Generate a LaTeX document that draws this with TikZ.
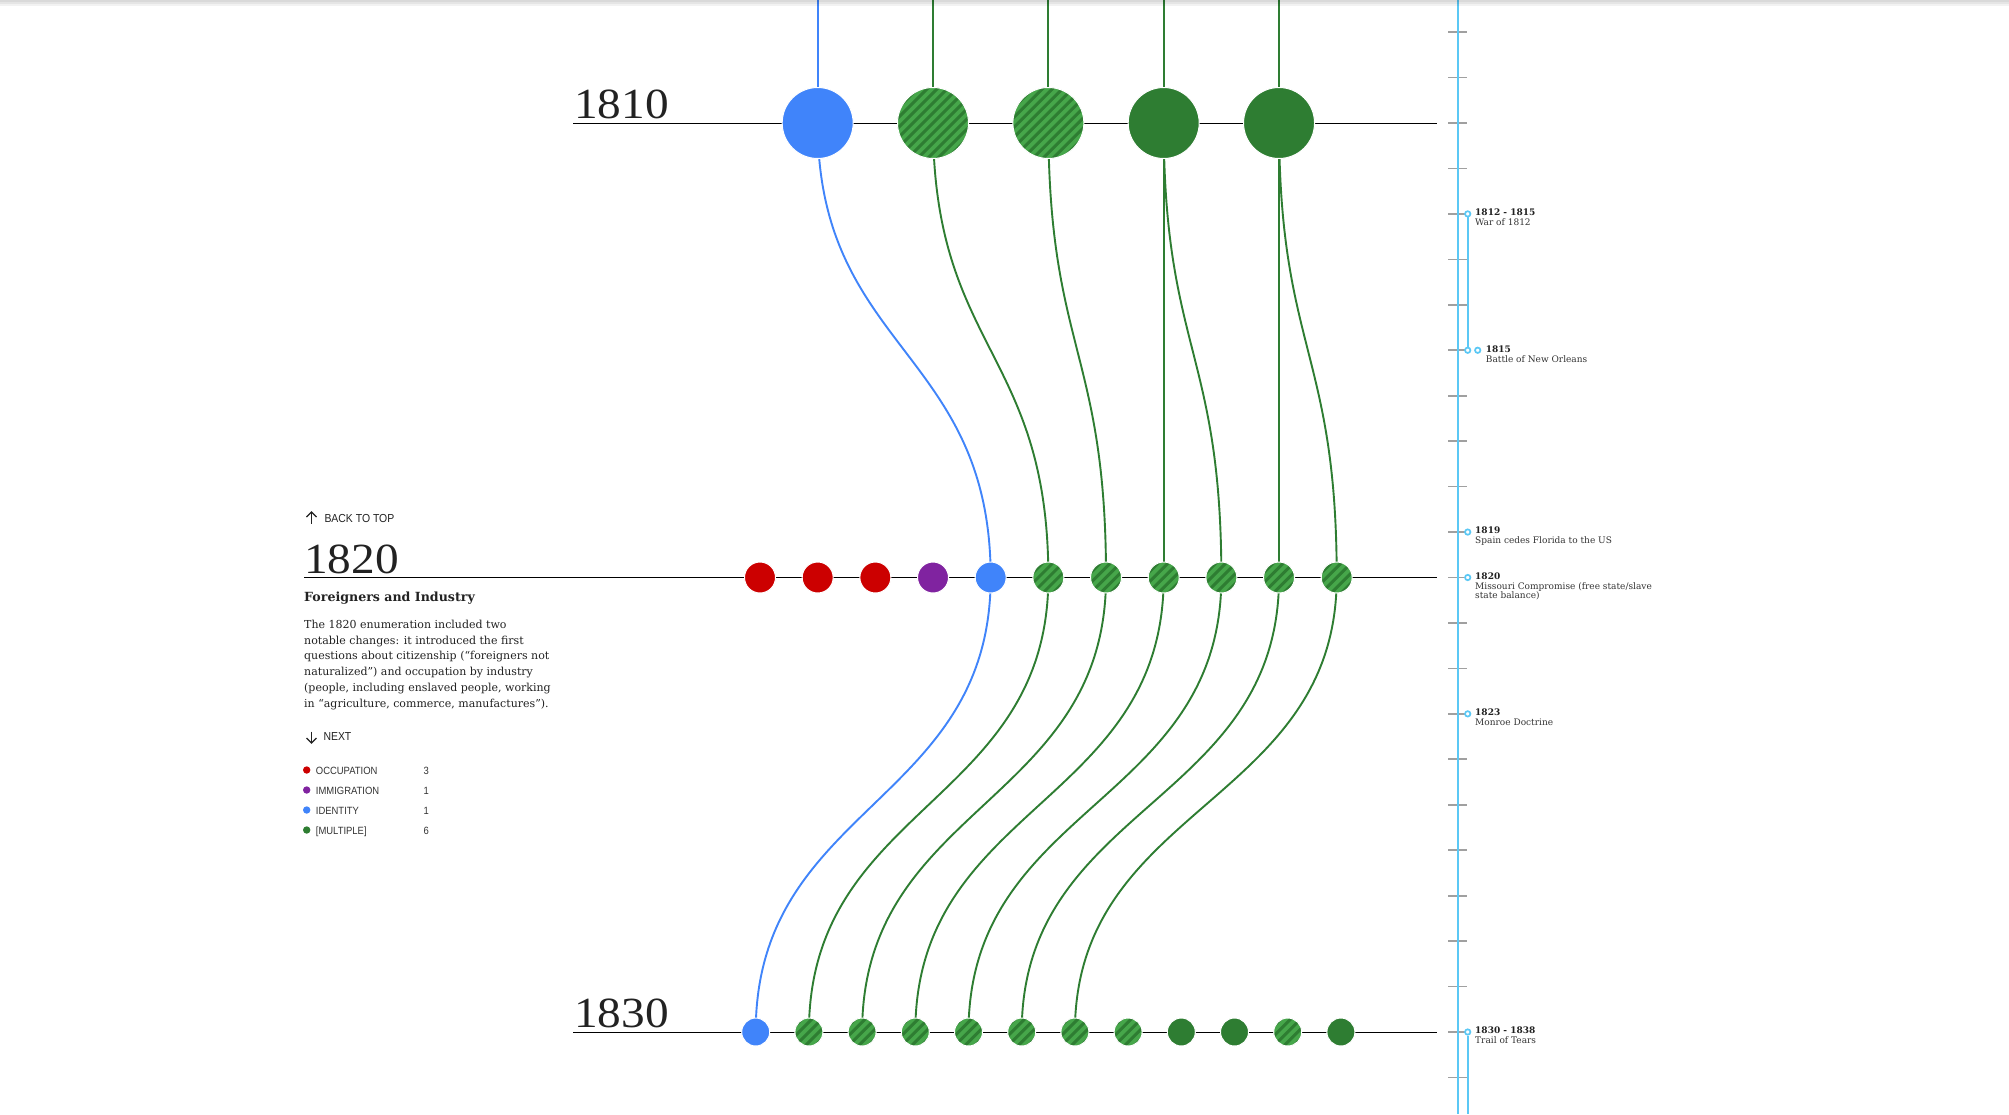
\documentclass[tikz,border=0pt]{standalone}
\usepackage{fontspec}
\setmainfont{DejaVu Serif}
\newfontfamily\yearfont[FakeStretch=1.1]{Liberation Serif}
\newfontfamily\uisans[FakeStretch=0.9]{Liberation Sans}
\definecolor{cblue}{RGB}{64,132,250}
\definecolor{gdark}{RGB}{46,125,50}
\definecolor{glight}{RGB}{70,166,74}
\definecolor{cred}{RGB}{204,0,0}
\definecolor{cpurple}{RGB}{128,35,160}
\definecolor{tblue}{RGB}{91,200,245}
\definecolor{tgray}{RGB}{160,160,160}
\definecolor{ink}{RGB}{34,34,34}
\definecolor{ink2}{RGB}{51,51,51}
\pgfdeclarelayer{bg}
\pgfdeclarelayer{lines}
\pgfsetlayers{bg,lines,main}
\tikzset{
  dot/.style={circle, draw=white, line width=1pt, inner sep=0pt, minimum size=#1},
  bigdot/.style={dot=71pt},
  middot/.style={dot=31pt},
  smalldot/.style={dot=28pt},
  striped/.style={fill=glight, path picture={\foreach \k in {-10,...,10}{\draw[gdark,line width=3pt] ([shift={(\k*10-60,60)}]path picture bounding box.center) -- ++(120,-120);}}},
  solidg/.style={fill=gdark},
  bluef/.style={fill=cblue},
  redf/.style={fill=cred},
  purf/.style={fill=cpurple},
  bline/.style={draw=cblue, line width=1.9pt},
  gline/.style={draw=gdark, line width=1.9pt},
  rowline/.style={draw=black, line width=1pt},
  yearlab/.style={anchor=base west, inner sep=0pt, text=ink, font=\yearfont\fontsize{43}{43}\selectfont},
  evc/.style={circle, draw=tblue, fill=white, line width=1.7pt, inner sep=0pt, minimum size=5.4pt},
  evrange/.style={draw=tblue, line width=1.7pt},
  evyear/.style={anchor=base west, inner sep=0pt, text=ink, font=\bfseries\fontsize{9}{9}\selectfont},
  evtext/.style={anchor=base west, inner sep=0pt, text=ink2, font=\fontsize{9}{9}\selectfont},
  tickmark/.style={draw=tgray, line width=1.7pt},
  para/.style={anchor=base west, inner sep=0pt, text=ink, font=\fontsize{11}{11}\selectfont},
  uilab/.style={anchor=base west, inner sep=0pt, text=ink, font=\uisans\fontsize{11.6}{11.6}\selectfont},
  leglab/.style={anchor=base west, inner sep=0pt, text=ink2, font=\uisans\fontsize{10.5}{10.5}\selectfont},
  legdot/.style={circle, inner sep=0pt, minimum size=7.4pt},
  arrowicon/.style={draw=ink, line width=1.3pt},
  curve/.style={to path={.. controls +(0,227) and +(0,-227) .. (\tikztotarget)}}
}
\begin{document}
\begin{tikzpicture}[x=1pt,y=-1pt]
\begin{pgfonlayer}{bg}
\fill[white] (0,0) rectangle (2009,1114);
\end{pgfonlayer}
\useasboundingbox (0,0) rectangle (2009,1114);

% ---- 1810 row
\foreach \s/\i in {bluef/1,striped/3,striped/5,solidg/7,solidg/9}
  \node[bigdot,\s] (a\i) at ({760+57.67*\i},123) {};
% ---- 1820 row
\foreach \s [count=\i from 0] in {redf,redf,redf,purf,bluef,striped,striped,striped,striped,striped,striped}
  \node[middot,\s] (b\i) at ({760+57.67*\i},577.5) {};
% ---- 1830 row
\foreach \s [count=\i from 0] in {bluef,striped,striped,striped,striped,striped,striped,striped,solidg,solidg,striped,solidg}
  \node[smalldot,\s] (c\i) at ({755.7+53.2*\i},1032) {};

\begin{pgfonlayer}{lines}
\coordinate (r10a) at (573,123);  \coordinate (r10b) at (1436.7,123);
\coordinate (r20a) at (304,577.5); \coordinate (r20b) at (1436.7,577.5);
\coordinate (r30a) at (573,1032); \coordinate (r30b) at (1436.7,1032);
\draw[rowline] (r10a) -- (r10b);
\draw[rowline] (r20a) -- (r20b);
\draw[rowline] (r30a) -- (r30b);
\foreach \i in {1,3,5,7,9} \coordinate (top\i) at ({760+57.67*\i},0);
\draw[bline] (top1) -- (a1.center);
\foreach \i in {3,5,7,9} \draw[gline] (top\i) -- (a\i.center);
% 1810 -> 1820
\draw[bline] (a1.center) to[curve] (b4.center);
\draw[gline] (a3.center) to[curve] (b5.center);
\draw[gline] (a5.center) to[curve] (b6.center);
\draw[gline] (a7.center) to[curve] (b7.center);
\draw[gline] (a7.center) to[curve] (b8.center);
\draw[gline] (a9.center) to[curve] (b9.center);
\draw[gline] (a9.center) to[curve] (b10.center);
% 1820 -> 1830
\draw[bline] (b4.center) to[curve] (c0.center);
\draw[gline] (b5.center) to[curve] (c1.center);
\draw[gline] (b6.center) to[curve] (c2.center);
\draw[gline] (b7.center) to[curve] (c3.center);
\draw[gline] (b8.center) to[curve] (c4.center);
\draw[gline] (b9.center) to[curve] (c5.center);
\draw[gline] (b10.center) to[curve] (c6.center);
\end{pgfonlayer}

% ---- year headings
\node[yearlab] (y1810) at (574,118.5) {1810};
\node[yearlab] (y1820) at (304,573.3) {1820};
\node[yearlab] (y1830) at (574,1027.5) {1830};

% ---- left text panel
\coordinate (upA) at (311.5,523.5); \coordinate (upB) at (311.5,512);
\draw[arrowicon] (upA) -- (upB);
\draw[arrowicon, line join=miter] (306.5,517) -- (upB) -- (316.5,517);
\node[uilab] (backtop) at (324.3,522.3) {BACK TO TOP};
\node[anchor=base west, inner sep=0pt, text=ink, font=\bfseries\fontsize{12.6}{12.6}\selectfont] (title) at (304,601) {Foreigners and Industry};
\node[para] (p1) at (304,628.3) {The 1820 enumeration included two};
\node[para] (p2) at (304,644.1) {notable changes: it introduced the first};
\node[para] (p3) at (304,659.9) {questions about citizenship (“foreigners not};
\node[para] (p4) at (304,675.7) {naturalized”) and occupation by industry};
\node[para] (p5) at (304,691.5) {(people, including enslaved people, working};
\node[para] (p6) at (304,707.3) {in “agriculture, commerce, manufactures”).};
\coordinate (dnA) at (311.5,731.5); \coordinate (dnB) at (311.5,743);
\draw[arrowicon] (dnA) -- (dnB);
\draw[arrowicon, line join=miter] (306.5,738) -- (dnB) -- (316.5,738);
\node[uilab] (next) at (323.3,740.7) {NEXT};

% ---- legend
\node[legdot, fill=cred] (lg1) at (306.7,770) {};
\node[legdot, fill=cpurple] (lg2) at (306.7,790) {};
\node[legdot, fill=cblue] (lg3) at (306.7,810) {};
\node[legdot, fill=gdark] (lg4) at (306.7,830) {};
\node[leglab] (lt1) at (315.7,774) {OCCUPATION};
\node[leglab] (lt2) at (315.7,794) {IMMIGRATION};
\node[leglab] (lt3) at (315.7,814) {IDENTITY};
\node[leglab] (lt4) at (315.7,834) {[MULTIPLE]};
\node[leglab] (ln1) at (423.3,774) {3};
\node[leglab] (ln2) at (423.3,794) {1};
\node[leglab] (ln3) at (423.3,814) {1};
\node[leglab] (ln4) at (423.3,834) {6};

% ---- timeline
\foreach \i in {-2,...,21} \draw[tickmark] (1448,{123+\i*45.45}) -- (1467,{123+\i*45.45});
\draw[draw=tblue, line width=2pt] (1458,0) -- (1458,1114);

\node[evc] (e1812) at (1467.7,213.9) {};
\node[evc] (e1815a) at (1467.7,350.25) {};
\node[evc] (e1815b) at (1477.7,350.25) {};
\node[evc] (e1819) at (1467.7,532.05) {};
\node[evc] (e1820) at (1467.7,577.5) {};
\node[evc] (e1823) at (1467.7,713.85) {};
\node[evc] (e1830) at (1467.7,1032) {};
\coordinate (ebot) at (1467.7,1114);
\draw[evrange] (e1812) -- (e1815a);
\draw[evrange] (e1830) -- (ebot);

\node[evyear] (t1812) at (1475,215.7) {1812 - 1815};
\node[evtext] (d1812) at (1475,225.7) {War of 1812};
\node[evyear] (t1815) at (1485.7,352.1) {1815};
\node[evtext] (d1815) at (1485.7,362.1) {Battle of New Orleans};
\node[evyear] (t1819) at (1475,533.9) {1819};
\node[evtext] (d1819) at (1475,543.9) {Spain cedes Florida to the US};
\node[evyear] (t1820) at (1475,579.8) {1820};
\node[evtext] (d1820a) at (1475,589.3) {Missouri Compromise (free state/slave};
\node[evtext] (d1820b) at (1475,598.8) {state balance)};
\node[evyear] (t1823) at (1475,715.7) {1823};
\node[evtext] (d1823) at (1475,725.7) {Monroe Doctrine};
\node[evyear] (t1830) at (1475,1033.8) {1830 - 1838};
\node[evtext] (d1830) at (1475,1043.8) {Trail of Tears};

% ---- top shadow
\fill[black, opacity=0.05] (0,0) rectangle (2009,6);
\fill[black, opacity=0.05] (0,0) rectangle (2009,3.5);
\fill[black, opacity=0.05] (0,0) rectangle (2009,1.5);
\end{tikzpicture}
\end{document}
